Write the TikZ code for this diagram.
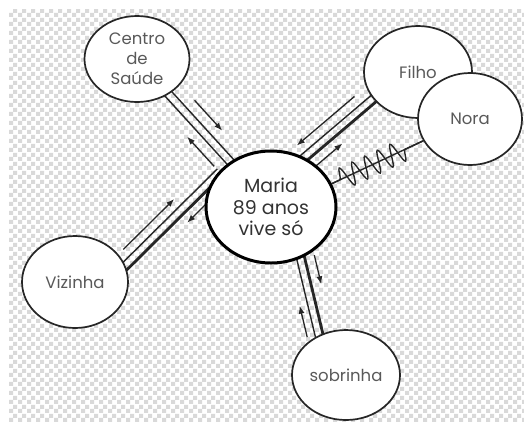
\documentclass[tikz,border=0pt]{standalone}
\usepackage{fontspec}
\setmainfont{Poppins}
\usetikzlibrary{shapes.geometric,arrows.meta,calc,decorations.pathmorphing,patterns.meta}

\pgfdeclarelayer{bg}
\pgfdeclarelayer{links}
\pgfsetlayers{bg,links,main}

\tikzdeclarepattern{
  name=bigcheck,
  type=uncolored,
  bottom left={(0pt,0pt)},
  top right={(9pt,9pt)},
  tile size={(9pt,9pt)},
  code={
    \fill (0pt,0pt) rectangle (4.5pt,4.5pt);
    \fill (4.5pt,4.5pt) rectangle (9pt,9pt);
  }
}

\tikzset{
  pnode/.style={ellipse, draw=black!85, line width=1.7pt, fill=white, inner sep=0pt,
    align=center, text=black!65, font=\fontsize{16.5}{20}\selectfont},
  mnode/.style={ellipse, draw=black, line width=3pt, fill=white, inner sep=0pt,
    align=center, text=black!80, font=\fontsize{19}{21.5}\selectfont},
  thinl/.style={line width=1.4pt, draw=black!85},
  thickl/.style={line width=2.8pt, draw=black!85},
  sarrow/.style={line width=1.3pt, draw=black!85, -{Latex[length=8pt,width=6pt]}},
}

\begin{document}
\begin{tikzpicture}[x=1pt,y=-1pt]
\useasboundingbox (0,0) rectangle (524,421);
\begin{pgfonlayer}{bg}
  \fill[white] (0,0) rectangle (524,421);
  \fill[pattern=bigcheck, pattern color=black!15] (9,9) rectangle (524,421);
\end{pgfonlayer}

% nodes
\node[mnode, minimum width=130pt, minimum height=112pt] (maria) at (271,207) {Maria\\89 anos\\vive só};
\node[pnode, minimum width=105pt, minimum height=86pt] (centro) at (137,59) {Centro\\de\\Saúde};
\node[pnode, minimum width=108pt, minimum height=92pt] (filho) at (418,72) {Filho};
\node[pnode, minimum width=104pt, minimum height=92pt] (nora) at (470,119) {Nora};
\node[pnode, minimum width=106pt, minimum height=92pt] (vizinha) at (75,282) {Vizinha};
\node[pnode, minimum width=108pt, minimum height=90pt] (sobrinha) at (346,375) {sobrinha};

\begin{pgfonlayer}{links}
% Centro -- Maria
\draw[thinl] ($(centro.312)!-10pt!(maria.132)!4pt!90:(maria.132)$) -- ($(maria.132)!-10pt!(centro.312)!4pt!-90:(centro.312)$);
\draw[thinl] ($(centro.312)!-10pt!(maria.132)!4pt!-90:(maria.132)$) -- ($(maria.132)!-10pt!(centro.312)!4pt!90:(centro.312)$);
\draw[sarrow] ($(centro.312)!0.24!(maria.132)!15pt!90:(maria.132)$) -- ($(centro.312)!0.69!(maria.132)!15pt!90:(maria.132)$);
\draw[sarrow] ($(centro.312)!0.92!(maria.132)!15pt!-90:(maria.132)$) -- ($(centro.312)!0.48!(maria.132)!15pt!-90:(maria.132)$);

% Maria -- Filho
\draw[thinl] ($(maria.56)!-10pt!(filho.211)!4pt!90:(filho.211)$) -- ($(filho.211)!-10pt!(maria.56)!4pt!-90:(maria.56)$);
\draw[thickl] ($(maria.56)!-10pt!(filho.211)!4pt!-90:(filho.211)$) -- ($(filho.211)!-10pt!(maria.56)!4pt!90:(maria.56)$);
\draw[sarrow] ($(maria.56)!0.86!(filho.211)!14pt!90:(filho.211)$) -- ($(maria.56)!0.02!(filho.211)!14pt!90:(filho.211)$);
\draw[sarrow] ($(maria.56)!0.04!(filho.211)!14pt!-90:(filho.211)$) -- ($(maria.56)!0.42!(filho.211)!14pt!-90:(filho.211)$);

% Maria -- Nora (line with wave)
\draw[thinl] (maria.21) -- (nora.205);
\draw[thinl, decorate, decoration={snake, amplitude=11pt, segment length=14pt, pre length=9pt, post length=20pt}] (maria.21) -- (nora.205);

% Vizinha -- Maria
\draw[thinl] ($(vizinha.18)!-10pt!(maria.154)!4pt!90:(maria.154)$) -- ($(maria.154)!-10pt!(vizinha.18)!4pt!-90:(vizinha.18)$);
\draw[thickl] ($(vizinha.18)!-10pt!(maria.154)!4pt!-90:(maria.154)$) -- ($(maria.154)!-10pt!(vizinha.18)!4pt!90:(vizinha.18)$);
\draw[sarrow] ($(vizinha.18)!0.08!(maria.154)!13pt!90:(maria.154)$) -- ($(vizinha.18)!0.66!(maria.154)!13pt!90:(maria.154)$);
\draw[sarrow] ($(vizinha.18)!0.98!(maria.154)!13pt!-90:(maria.154)$) -- ($(vizinha.18)!0.60!(maria.154)!13pt!-90:(maria.154)$);

% Maria -- sobrinha
\draw[thinl] ($(maria.300)!-10pt!(sobrinha.124)!4pt!-90:(sobrinha.124)$) -- ($(sobrinha.124)!-10pt!(maria.300)!4pt!90:(maria.300)$);
\draw[thickl] ($(maria.300)!-10pt!(sobrinha.124)!4pt!90:(sobrinha.124)$) -- ($(sobrinha.124)!-10pt!(maria.300)!4pt!-90:(maria.300)$);
\draw[sarrow] ($(maria.300)!0.0!(sobrinha.124)!14pt!90:(sobrinha.124)$) -- ($(maria.300)!0.38!(sobrinha.124)!14pt!90:(sobrinha.124)$);
\draw[sarrow] ($(maria.300)!0.99!(sobrinha.124)!12pt!-90:(sobrinha.124)$) -- ($(maria.300)!0.58!(sobrinha.124)!12pt!-90:(sobrinha.124)$);
\end{pgfonlayer}
\end{tikzpicture}
\end{document}
